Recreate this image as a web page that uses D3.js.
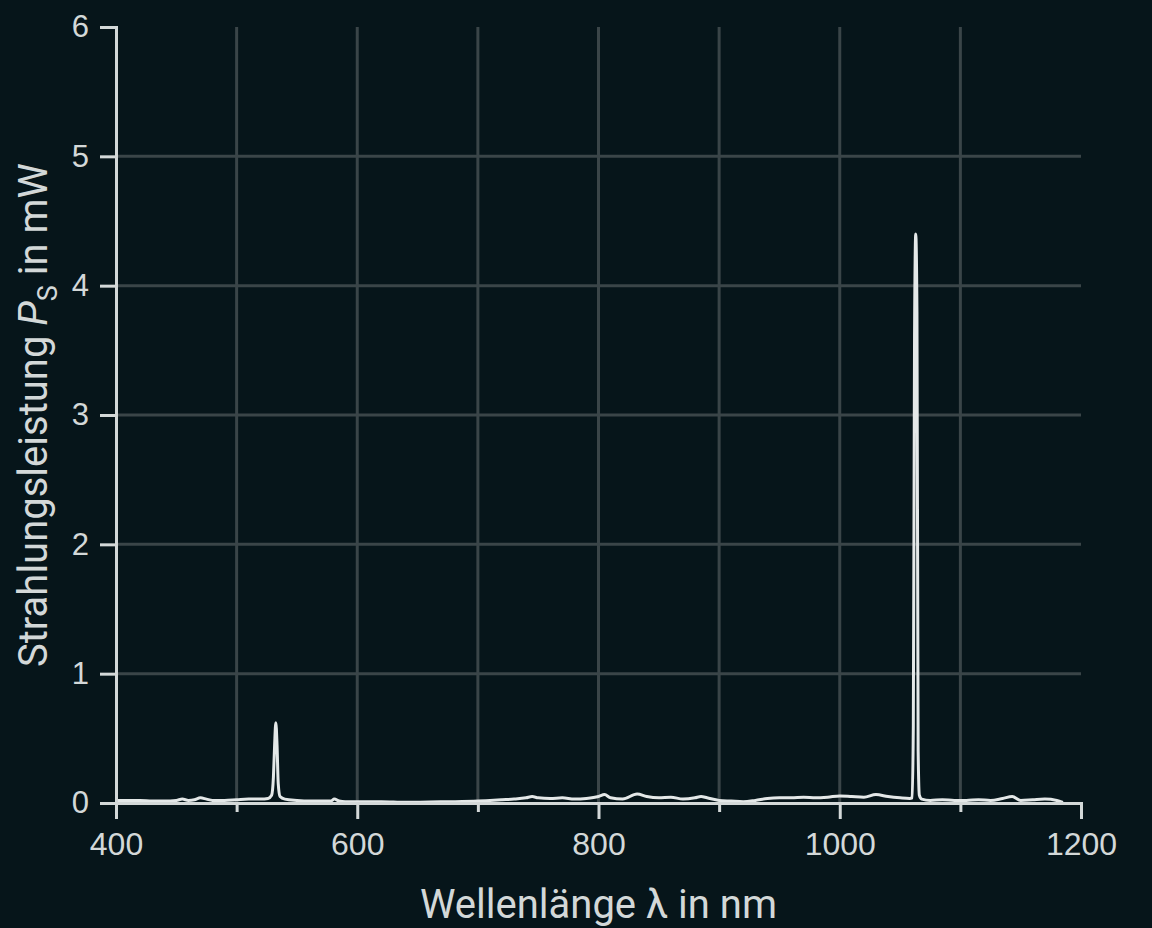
<!DOCTYPE html>
<html>
<head>
<meta charset="utf-8">
<script src="https://cdn.jsdelivr.net/npm/d3@7"></script>
<style>
  html, body { margin: 0; padding: 0; background: #06151a; }
  svg { display: block; }
</style>
</head>
<body>
<div id="container"></div>
<script>
/* CONSTANTS AND GLOBALS */
const width = 1152,
  height = 928,
  plotLeft = 116,
  plotRight = 1081,
  plotTop = 27,
  plotBottom = 803;

/* DATA */
const wavelength = [400, 410, 420, 430, 440, 450, 455, 460, 465, 470, 475, 480, 490, 500, 510, 520, 526, 529, 530.5, 531.5, 532.5, 533.5, 534.5, 536, 540, 550, 560, 570, 578, 581, 585, 590, 600, 620, 640, 660, 680, 700, 710, 720, 730, 740, 745, 750, 760, 770, 780, 790, 800, 805, 810, 820, 832, 840, 850, 860, 870, 880, 885, 890, 900, 910, 920, 930, 940, 950, 960, 970, 980, 990, 1000, 1010, 1020, 1030, 1040, 1050, 1058, 1060, 1061, 1062, 1063, 1064, 1065, 1066, 1068, 1075, 1085, 1095, 1105, 1115, 1125, 1135, 1143, 1150, 1160, 1170, 1180, 1185];
const power = [0.02, 0.02, 0.02, 0.015, 0.015, 0.02, 0.03, 0.02, 0.025, 0.04, 0.03, 0.02, 0.02, 0.025, 0.03, 0.03, 0.035, 0.06, 0.2, 0.45, 0.62, 0.45, 0.15, 0.05, 0.03, 0.02, 0.015, 0.015, 0.015, 0.03, 0.015, 0.01, 0.01, 0.01, 0.005, 0.008, 0.01, 0.015, 0.02, 0.025, 0.03, 0.04, 0.05, 0.04, 0.035, 0.04, 0.03, 0.035, 0.05, 0.065, 0.04, 0.03, 0.07, 0.05, 0.04, 0.045, 0.03, 0.04, 0.05, 0.04, 0.02, 0.015, 0.01, 0.02, 0.035, 0.04, 0.04, 0.045, 0.04, 0.045, 0.055, 0.05, 0.045, 0.065, 0.05, 0.04, 0.035, 0.04, 0.6, 3.6, 4.4, 3.8, 0.4, 0.06, 0.03, 0.02, 0.025, 0.02, 0.02, 0.025, 0.02, 0.035, 0.05, 0.02, 0.025, 0.03, 0.02, 0.005];

const xTicks = [400, 500, 600, 700, 800, 900, 1000, 1100, 1200];
const yTicks = [0, 1, 2, 3, 4, 5, 6];

const data = wavelength.map((w, i) => ({ w: w, p: power[i] }));

const svg = d3.select("#container")
  .append("svg")
  .attr("width", width)
  .attr("height", height)
  .style("background-color", "#06151a")
  .style("font-family", "Roboto, sans-serif");

/* SCALES */
const xScale = d3.scaleLinear()
  .domain([400, 1200])
  .range([plotLeft, plotRight]);

const yScale = d3.scaleLinear()
  .domain([0, 6])
  .range([plotBottom, plotTop]);

/* GRID */
svg.append("g")
  .selectAll("line.vgrid")
  .data(xTicks.slice(1, -1))
  .join("line")
  .attr("class", "vgrid")
  .attr("x1", d => xScale(d))
  .attr("x2", d => xScale(d))
  .attr("y1", plotTop)
  .attr("y2", plotBottom)
  .attr("stroke", "#3a4548")
  .attr("stroke-width", 3);

svg.append("g")
  .selectAll("line.hgrid")
  .data(yTicks.slice(1, -1))
  .join("line")
  .attr("class", "hgrid")
  .attr("x1", plotLeft)
  .attr("x2", plotRight)
  .attr("y1", d => yScale(d))
  .attr("y2", d => yScale(d))
  .attr("stroke", "#3a4548")
  .attr("stroke-width", 3);

/* LINE */
const line = d3.line()
  .x(d => xScale(d.w))
  .y(d => yScale(d.p))
  .curve(d3.curveMonotoneX);

svg.append("path")
  .datum(data)
  .attr("d", line)
  .attr("fill", "none")
  .attr("stroke", "#e4e8e8")
  .attr("stroke-width", 3)
  .attr("stroke-linejoin", "round");

/* AXES */
const axisColor = "#d3d8d8";

const xAxis = svg.append("g")
  .attr("transform", `translate(0,${plotBottom})`)
  .call(d3.axisBottom(xScale)
    .tickValues(xTicks)
    .tickSize(9)
    .tickSizeOuter(16)
    .tickPadding(12)
    .tickFormat(d => d % 200 === 0 ? d : ""));

xAxis.selectAll(".tick line")
  .attr("y2", d => d % 200 === 0 ? 16 : 9);
xAxis.selectAll("text")
  .attr("y", 29)
  .style("font-size", "32px")
  .style("fill", axisColor);

const yAxis = svg.append("g")
  .attr("transform", `translate(${plotLeft},0)`)
  .call(d3.axisLeft(yScale)
    .tickValues(yTicks)
    .tickSize(16)
    .tickSizeOuter(16)
    .tickPadding(11)
    .tickFormat(d3.format("d")));

yAxis.selectAll("text")
  .style("font-size", "31px")
  .style("fill", axisColor);

svg.selectAll(".domain, .tick line")
  .attr("stroke", axisColor)
  .attr("stroke-width", 3);

/* LABELS */
svg.append("text")
  .attr("x", (plotLeft + plotRight) / 2)
  .attr("y", 918)
  .attr("text-anchor", "middle")
  .style("font-size", "40px")
  .style("fill", axisColor)
  .text("Wellenlänge λ in nm");

const ylab = svg.append("text")
  .attr("transform", `translate(47,${(plotTop + plotBottom) / 2}) rotate(-90)`)
  .attr("text-anchor", "middle")
  .style("font-size", "40px")
  .style("fill", axisColor);
ylab.append("tspan").text("Strahlungsleistung ");
ylab.append("tspan").style("font-style", "italic").text("P");
ylab.append("tspan").attr("dy", 10).style("font-size", "27px").text("S");
ylab.append("tspan").attr("dy", -10).text(" in mW");
</script>
</body>
</html>
